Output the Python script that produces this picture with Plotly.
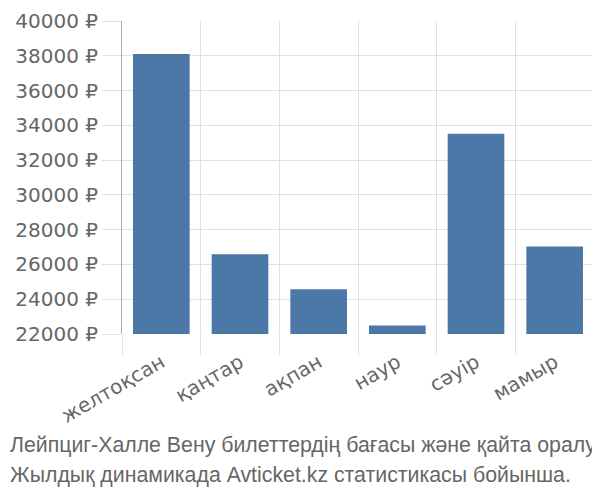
import plotly.graph_objects as go

categories = ["желтоқсан", "қаңтар", "ақпан", "наур", "сәуір", "мамыр"]
prices = [38100, 26580, 24570, 22490, 33520, 27030]
y_ticks = [22000, 24000, 26000, 28000, 30000, 32000, 34000, 36000, 38000, 40000]
y_tick_labels = [f"{v} ₽" for v in y_ticks]
caption_lines = [
    "Лейпциг-Халле Вену билеттердің бағасы және қайта оралу",
    "Жылдық динамикада Avticket.kz статистикасы бойынша.",
]

font_family = "Liberation Sans, Arial, sans-serif"
tick_family = "DejaVu Sans, Liberation Sans, sans-serif"
text_color = "#666666"
grid_color = "#e0e0e0"

# page body adds an 8px offset; compensate so the on-screen layout matches
OFF = 8
PLOT_LEFT, PLOT_RIGHT, PLOT_TOP, PLOT_BOTTOM = 122 - OFF, 594 - OFF, 21 - OFF, 334 - OFF
plot_w = PLOT_RIGHT - PLOT_LEFT
plot_h = PLOT_BOTTOM - PLOT_TOP

fig = go.Figure()
fig.add_trace(go.Bar(
    x=categories,
    y=prices,
    marker=dict(color="#4c78a8", line=dict(width=0)),
))

fig.update_layout(
    width=600,
    height=500,
    margin=dict(l=PLOT_LEFT, r=600 - PLOT_RIGHT, t=PLOT_TOP, b=500 - PLOT_BOTTOM,
                pad=0, autoexpand=False),
    paper_bgcolor="white",
    plot_bgcolor="white",
    bargap=0.28,
    showlegend=False,
    font=dict(family=font_family, color=text_color, size=20),
)

fig.update_xaxes(
    type="category",
    tickson="boundaries",
    ticks="outside",
    ticklen=20,
    tickcolor=grid_color,
    showgrid=True,
    gridcolor=grid_color,
    gridwidth=1,
    tickangle=-30,
    ticklabelstandoff=12,
    ticklabeloverflow="allow",
    tickfont=dict(size=20, color=text_color, family=tick_family),
    showline=False,
    zeroline=False,
    automargin=False,
)

fig.update_yaxes(
    range=[22000, 40000],
    tickvals=y_ticks,
    ticktext=y_tick_labels,
    ticks="outside",
    ticklen=19,
    tickcolor=grid_color,
    showgrid=True,
    gridcolor=grid_color,
    gridwidth=1,
    showline=True,
    linecolor="#b0b0b0",
    linewidth=1,
    zeroline=False,
    automargin=False,
    ticklabeloverflow="allow",
    tickfont=dict(size=20, color=text_color, family=tick_family),
)

caption_centers = [445 - OFF, 475 - OFF]
for line, cy in zip(caption_lines, caption_centers):
    fig.add_annotation(
        text=line,
        xref="paper", yref="paper",
        x=(0 - PLOT_LEFT) / plot_w, xanchor="left",
        y=(PLOT_BOTTOM - cy) / plot_h, yanchor="middle",
        showarrow=False,
        font=dict(size=21.3, color=text_color, family=font_family),
    )

fig.write_html("out.html")
